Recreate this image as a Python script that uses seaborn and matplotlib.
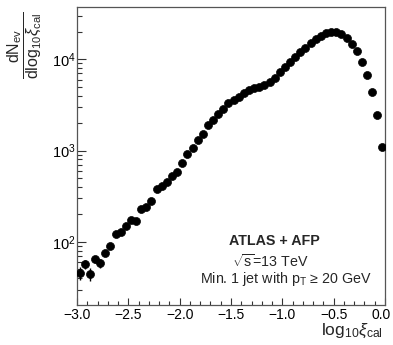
import numpy as np
import pandas as pd
import matplotlib
matplotlib.use("Agg")
import matplotlib.pyplot as plt
import matplotlib.ticker as mticker
import matplotlib.transforms as mtransforms
import seaborn as sns

# bin centres of log10(xi_cal), bin width 0.05
log_xi = [round(-2.975 + 0.05 * i, 3) for i in range(60)]
dN = [45.6, 56.6, 44.5, 64.5, 58.0, 75.6, 90.2, 123, 128, 149,
      172, 167, 228, 241, 281, 375, 410, 448, 527, 583,
      731, 918, 1060, 1290, 1510, 1907, 2164, 2518, 2820, 3297,
      3583, 3893, 4220, 4610, 4813, 4911, 5164, 5642, 6240, 7259,
      8236, 9342, 10600, 12020, 13460, 15085, 16480, 18000, 19180, 19660,
      19760, 18700, 16900, 14720, 12330, 9413, 6730, 4417, 2423, 1103]
dN_err = [7, 6, 7, 6, 6, 5, 5, 5, 5, 5] + [0] * 50

x_ticks = [-3.0, -2.5, -2.0, -1.5, -1.0, -0.5, 0.0]
x_tick_labels = ["\u22123.0", "\u22122.5", "\u22122.0", "\u22121.5", "\u22121.0", "\u22120.5", "0.0"]
y_ticks = [1e2, 1e3, 1e4]
y_tick_labels = [r"$10^{2}$", r"$10^{3}$", r"$10^{4}$"]

df = pd.DataFrame({"x": log_xi, "y": dN, "err": dN_err})

sns.set_theme(style="ticks")
plt.rcParams["font.family"] = ["Liberation Sans", "DejaVu Sans"]
plt.rcParams["mathtext.fontset"] = "custom"
plt.rcParams["mathtext.rm"] = "Liberation Sans"
plt.rcParams["mathtext.it"] = "Liberation Sans:italic"
plt.rcParams["mathtext.bf"] = "Liberation Sans:bold"

fig = plt.figure(figsize=(3.93, 3.45), dpi=100)
ax = fig.add_axes([77 / 393, 40 / 345, 308 / 393, 298 / 345])

ax.errorbar(df["x"], df["y"], yerr=df["err"], fmt="none", ecolor="black",
            elinewidth=1.0, capsize=0, zorder=2)
sns.scatterplot(data=df, x="x", y="y", ax=ax, color="black", s=33,
                edgecolor="black", linewidth=0.5, zorder=3, legend=False)

ax.set_yscale("log")
ax.set_xlim(-3.0, 0.0)
ax.set_ylim(20.3, 37400)
ax.set_xlabel("")
ax.set_ylabel("")

ax.set_xticks(x_ticks)
ax.set_xticklabels(x_tick_labels)
ax.xaxis.set_minor_locator(mticker.MultipleLocator(0.1))
ax.set_yticks(y_ticks)
ax.set_yticklabels(y_tick_labels)
ax.yaxis.set_minor_locator(mticker.LogLocator(base=10, subs=np.arange(2, 10)))
ax.yaxis.set_minor_formatter(mticker.NullFormatter())

ax.tick_params(axis="x", which="major", direction="in", length=5, width=0.8,
               labelsize=10, pad=2, colors="#333333", labelcolor="black")
ax.tick_params(axis="x", which="minor", direction="in", length=2.8, width=0.8,
               colors="#333333")
ax.tick_params(axis="y", which="major", direction="in", length=6.5, width=0.8,
               labelsize=10.5, pad=1, colors="#333333", labelcolor="black")
ax.tick_params(axis="y", which="minor", direction="in", length=3.6, width=0.8,
               colors="#333333")
for side in ["left", "right", "top", "bottom"]:
    ax.spines[side].set_visible(True)
    ax.spines[side].set_color("#555555")
    ax.spines[side].set_linewidth(0.9)

# shift the last x tick label slightly left so it stays inside the figure
last = ax.get_xticklabels()[-1]
last.set_transform(last.get_transform() +
                   mtransforms.ScaledTranslation(-4 / 100, 0, fig.dpi_scale_trans))

# labels
fig.text(383 / 393, 1 - 331 / 345, r"$\mathrm{log}_{10}\xi_{\mathrm{cal}}$",
         ha="right", va="center", fontsize=12.5)
fig.text(24 / 393, 1 - 12 / 345,
         r"$\dfrac{\mathrm{dN}_{\mathrm{ev}}}{\mathrm{dlog}_{10}\xi_{\mathrm{cal}}}$",
         rotation=90, ha="center", va="top", fontsize=11.5)

# annotation
fig.text(274 / 393, 1 - 241 / 345, "ATLAS + AFP", ha="center", va="center",
         fontsize=10.3, fontweight="bold")
fig.text(270 / 393, 1 - 261 / 345, r"$\sqrt{\mathrm{s}}$=13 TeV", ha="center",
         va="center", fontsize=10.3)
fig.text(372 / 393, 1 - 279.5 / 345, "Min. 1 jet with p$_{\\mathrm{T}}$ \u2265 20 GeV",
         ha="right", va="center", fontsize=10.3)

fig.savefig("out.png", dpi=100)
